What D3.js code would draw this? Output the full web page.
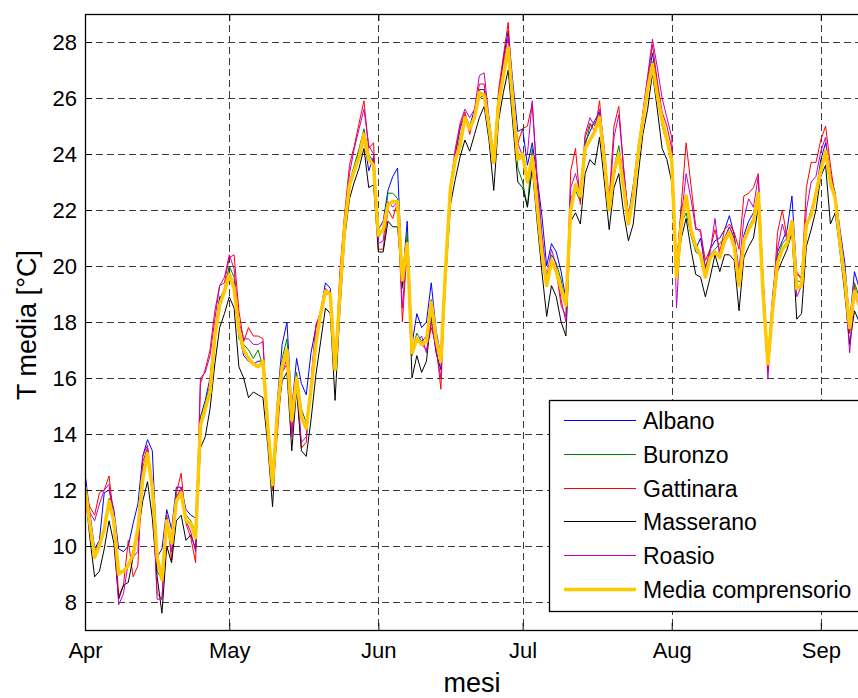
<!DOCTYPE html>
<html>
<head>
<meta charset="utf-8">
<script src="https://cdnjs.cloudflare.com/ajax/libs/d3/7.8.5/d3.min.js"></script>
<style>
  body { margin: 0; background: #fff; }
  svg { display: block; font-family: "Liberation Sans", Arial, sans-serif; }
</style>
</head>
<body>
<div id="chart-container"></div>
<script>
// Daily mean temperature (°C), one value per day starting 1 April
const albano = [
  12.6, 11.2, 9.9, 10.2, 11.9, 12.0, 11.3, 9.9, 9.8, 10.0,
  10.8, 11.5, 13.2, 13.8, 13.4, 9.6, 9.9, 11.3, 10.6, 12.1,
  12.1, 11.3, 11.1, 11.0, 14.6, 15.2, 16.0, 17.7, 18.9, 19.0,
  19.8, 19.3, 17.6, 16.8, 16.6, 16.5, 16.6, 16.6, 14.3, 12.2,
  15.2, 17.2, 18.0, 14.9, 16.7, 15.8, 15.4, 16.9, 17.8, 18.4,
  19.4, 19.2, 16.4, 19.3, 21.5, 22.8, 23.5, 24.1, 24.6, 23.4,
  23.9, 21.3, 21.6, 22.7, 23.2, 23.5, 19.5, 21.6, 17.2, 18.3,
  17.8, 18.0, 19.4, 17.7, 16.8, 20.3, 22.8, 24.0, 24.9, 25.4,
  25.0, 25.6, 26.3, 26.3, 25.3, 23.9, 26.0, 27.4, 28.4, 26.5,
  24.8, 24.9, 23.6, 24.4, 23.2, 21.8, 20.0, 20.8, 20.5, 19.8,
  18.8, 22.4, 22.8, 22.5, 24.4, 24.8, 25.2, 25.5, 23.8, 22.3,
  23.2, 24.0, 23.3, 21.8, 22.9, 24.2, 25.4, 26.5, 27.6, 26.5,
  25.1, 24.6, 23.9, 20.0, 22.1, 22.4, 21.4, 20.6, 21.0, 19.9,
  20.6, 20.9, 21.0, 21.3, 21.8, 21.1, 19.7, 21.1, 21.6, 21.9,
  22.6, 19.6, 16.7, 19.0, 20.5, 20.9, 21.3, 22.5, 19.7, 19.6,
  21.4, 22.0, 22.6, 23.8, 24.4, 23.3, 22.6, 21.3, 20.1, 18.0,
  19.8, 19.2
];
const buronzo = [
  12.2, 11.0, 9.8, 10.1, 10.7, 11.7, 10.9, 9.1, 9.1, 9.3,
  9.8, 10.6, 12.8, 13.4, 12.3, 9.1, 8.8, 11.0, 10.2, 11.8,
  12.0, 11.1, 10.9, 10.5, 14.6, 15.1, 15.8, 17.6, 18.8, 19.2,
  20.0, 19.6, 17.4, 17.2, 17.0, 16.7, 17.0, 16.4, 14.1, 12.3,
  15.0, 16.7, 17.4, 14.6, 16.2, 14.9, 14.4, 15.7, 17.5, 18.2,
  19.0, 19.0, 16.3, 19.2, 21.4, 23.0, 23.6, 24.2, 24.9, 24.0,
  23.7, 21.0, 21.3, 22.6, 22.6, 22.4, 19.2, 21.2, 17.0, 17.6,
  17.3, 17.5, 18.8, 17.5, 16.6, 20.1, 22.7, 23.8, 24.6, 25.3,
  24.9, 25.3, 26.0, 26.1, 25.0, 23.7, 25.9, 26.8, 27.6, 25.6,
  23.5, 23.0, 22.1, 24.2, 22.3, 20.8, 19.5, 20.4, 20.1, 19.5,
  18.6, 22.2, 22.7, 22.3, 24.3, 25.0, 25.1, 25.4, 24.0, 22.0,
  23.5, 24.3, 23.2, 21.6, 22.6, 24.0, 25.3, 26.3, 27.3, 26.2,
  25.0, 24.4, 23.6, 19.8, 21.5, 21.9, 21.1, 20.5, 20.4, 20.0,
  20.4, 20.6, 20.8, 21.0, 21.4, 21.0, 19.6, 20.9, 21.4, 21.7,
  22.5, 19.4, 16.4, 18.7, 20.3, 20.8, 21.0, 21.6, 19.5, 19.4,
  21.3, 22.0, 22.5, 23.6, 24.1, 23.0, 22.3, 21.0, 19.6, 17.6,
  19.4, 18.9
];
const gattinara = [
  12.0, 11.4, 11.1, 11.9, 12.0, 12.5, 11.0, 8.2, 8.6, 10.2,
  8.9, 9.3, 13.0, 13.5, 12.0, 8.3, 8.1, 11.1, 9.5, 11.9,
  12.6, 10.8, 10.3, 9.4, 15.8, 16.3, 17.0, 18.4, 19.3, 19.4,
  20.3, 20.4, 18.4, 17.3, 17.8, 17.5, 17.5, 17.4, 14.2, 12.0,
  14.0, 16.2, 16.5, 14.0, 15.8, 13.5, 13.7, 15.9, 17.9, 18.3,
  19.0, 19.1, 16.3, 19.8, 21.9, 23.6, 24.3, 25.1, 25.9, 24.2,
  24.4, 20.6, 20.6, 22.0, 21.7, 22.3, 18.0, 20.7, 16.8, 17.3,
  17.2, 17.0, 17.8, 17.2, 15.6, 19.8, 22.9, 24.0, 25.0, 25.5,
  24.7, 25.4, 26.5, 26.5, 25.0, 23.9, 26.3, 27.5, 28.7, 25.8,
  24.4, 24.9, 25.0, 25.8, 23.0, 21.0, 19.5, 20.1, 19.8, 18.6,
  18.2, 23.4, 24.2, 22.2, 24.6, 25.1, 24.8, 25.9, 23.9, 22.4,
  25.0, 25.7, 23.5, 21.8, 22.5, 24.0, 25.4, 26.7, 27.9, 26.6,
  25.5, 25.0, 24.2, 19.8, 22.2, 24.4, 22.9, 21.4, 21.2, 20.2,
  20.6, 21.3, 20.5, 21.3, 21.5, 21.2, 20.6, 22.5, 22.6, 22.8,
  23.3, 19.5, 16.2, 18.6, 21.2, 22.0, 21.0, 21.5, 19.8, 19.5,
  22.8, 23.7, 23.7, 24.5, 25.0, 23.6, 22.4, 21.2, 19.7, 17.6,
  19.3, 18.6
];
const masserano = [
  12.0, 10.3, 8.9, 9.1, 9.9, 10.9, 10.1, 8.1, 8.6, 8.7,
  9.6, 10.4, 11.6, 12.3, 11.0, 8.9, 7.6, 10.0, 9.4, 10.9,
  11.1, 10.2, 10.4, 9.9, 13.5, 13.9, 14.9, 16.5, 17.8, 18.3,
  18.9, 18.5, 16.4, 16.0, 15.3, 15.5, 15.4, 15.3, 13.6, 11.4,
  14.5, 15.9, 16.2, 13.4, 15.6, 13.4, 13.2, 14.5, 16.1, 17.3,
  18.5, 18.3, 15.2, 18.4, 21.0, 22.4, 23.0, 23.5, 24.2, 22.8,
  22.9, 20.5, 20.5, 21.6, 21.4, 21.4, 19.3, 20.7, 16.0, 16.8,
  16.2, 16.6, 18.2, 16.9, 16.3, 19.5, 22.2, 23.1, 23.9, 24.5,
  24.1, 24.7, 25.3, 25.7, 24.5, 22.7, 25.2, 26.2, 27.0, 25.0,
  23.0, 22.8, 22.1, 23.5, 21.6, 19.8, 18.2, 19.3, 18.9, 18.0,
  17.5, 21.6, 21.9, 21.5, 23.3, 23.8, 23.6, 24.6, 23.0, 21.3,
  22.8, 23.3, 21.9, 20.9, 21.5, 23.2, 24.7, 25.6, 26.9, 25.6,
  24.2, 23.8, 23.0, 19.6, 21.0, 21.7, 20.6, 19.7, 19.6, 18.9,
  19.6, 20.4, 19.8, 20.4, 20.4, 20.2, 18.4, 20.3, 20.7, 21.0,
  22.1, 19.0, 16.3, 18.3, 19.8, 20.2, 20.6, 21.2, 18.1, 18.3,
  20.7, 21.3, 22.0, 23.2, 23.6, 21.5, 21.9, 20.5, 19.0, 17.2,
  18.4, 18.0
];
const roasio = [
  12.2, 11.2, 10.9, 11.5, 12.0, 12.2, 10.6, 7.9, 8.3, 9.4,
  9.6, 9.8, 13.2, 13.6, 12.0, 8.1, 8.1, 11.0, 9.8, 11.7,
  12.1, 10.9, 10.5, 9.8, 16.0, 16.2, 16.8, 18.1, 19.3, 19.6,
  20.4, 19.9, 18.0, 17.4, 17.4, 17.2, 17.2, 17.3, 14.0, 12.2,
  14.8, 16.2, 16.7, 13.9, 15.9, 13.7, 13.9, 15.8, 17.8, 18.2,
  19.2, 19.0, 16.4, 19.6, 21.8, 23.3, 24.2, 24.9, 25.6, 24.3,
  24.0, 20.8, 20.9, 22.3, 22.1, 22.3, 18.5, 20.8, 17.1, 17.3,
  17.5, 16.9, 18.0, 17.0, 16.0, 20.0, 22.9, 24.2, 25.1, 25.6,
  25.3, 25.6, 26.8, 26.9, 25.3, 23.8, 26.0, 27.2, 28.2, 25.5,
  24.4, 23.9, 24.0, 25.9, 23.2, 21.2, 19.6, 20.6, 20.0, 18.8,
  18.0, 22.8, 23.3, 22.6, 24.7, 25.3, 25.0, 25.6, 24.2, 22.1,
  24.6, 25.4, 23.5, 21.6, 22.6, 24.1, 25.5, 26.8, 28.1, 27.1,
  26.0, 25.3, 24.6, 18.5, 21.7, 23.3, 22.4, 21.3, 21.3, 19.9,
  20.5, 21.7, 20.3, 21.0, 21.4, 21.0, 19.9, 21.7, 22.4, 22.1,
  23.2, 19.3, 16.0, 18.5, 20.6, 21.5, 20.9, 21.4, 18.9, 19.3,
  22.0, 23.0, 23.2, 24.1, 24.6, 22.8, 22.5, 21.0, 19.4, 16.9,
  19.0, 18.5
];
const media = [
  12.1, 10.8, 9.6, 10.0, 10.6, 11.6, 10.9, 9.0, 9.1, 9.3,
  9.7, 10.6, 12.4, 13.3, 12.1, 9.6, 8.8, 10.9, 10.1, 11.6,
  11.9, 10.9, 10.8, 10.3, 14.3, 14.9, 15.5, 17.5, 18.6, 19.1,
  19.7, 19.2, 17.7, 17.0, 16.7, 16.5, 16.4, 16.6, 14.3, 12.2,
  14.8, 16.4, 17.0, 14.5, 16.0, 14.6, 14.2, 15.6, 17.2, 18.3,
  19.1, 19.0, 16.3, 19.0, 21.4, 22.9, 23.4, 23.9, 24.7, 23.8,
  23.6, 21.1, 21.3, 22.2, 22.3, 22.3, 19.5, 20.8, 16.9, 17.4,
  17.2, 17.3, 18.7, 17.4, 16.6, 20.0, 22.8, 23.8, 24.3, 25.3,
  24.9, 25.3, 26.2, 26.1, 25.0, 23.7, 25.8, 26.8, 27.8, 25.8,
  23.8, 24.0, 23.0, 23.9, 22.2, 20.5, 19.3, 20.2, 19.8, 19.2,
  18.6, 22.0, 22.9, 22.5, 24.2, 24.5, 24.8, 25.3, 23.8, 22.0,
  23.4, 24.0, 22.8, 21.5, 22.5, 24.0, 25.2, 26.3, 27.2, 26.1,
  25.2, 24.5, 23.8, 19.6, 21.5, 22.5, 21.3, 20.7, 20.4, 19.6,
  20.3, 20.5, 20.3, 20.9, 21.2, 20.7, 19.3, 20.9, 21.3, 21.6,
  22.6, 19.0, 16.5, 18.5, 20.1, 20.6, 20.8, 21.6, 19.2, 19.3,
  21.5, 21.8, 22.6, 23.4, 24.1, 23.0, 22.4, 20.8, 19.5, 17.8,
  19.1, 18.6
];

const seriesNames = ['Albano', 'Buronzo', 'Gattinara', 'Masserano', 'Roasio', 'Media comprensorio'];
const monthLabels = ['Apr', 'May', 'Jun', 'Jul', 'Aug', 'Sep'];
const yTicks = [8, 10, 12, 14, 16, 18, 20, 22, 24, 26, 28];

// Line styles, same order as seriesNames
const colors = ['#0000ff', '#008000', '#ff0000', '#000000', '#c000c0', '#ffc800'];
const widths = [1, 1, 1, 1, 1, 3.5];

// Chart size (the axes box runs a little past the right edge of the page)
const svgWidth = 858;
const svgHeight = 698;
const plot = { left: 85, top: 14, right: 866, bottom: 630 };

const svg = d3.select('#chart-container')
  .append('svg')
  .attr('width', svgWidth)
  .attr('height', svgHeight);

// Scales
const startDate = new Date(Date.UTC(2011, 3, 1));
const endDate = new Date(startDate.getTime() + 162.4 * 864e5);
const dayDate = i => d3.utcDay.offset(startDate, i);

const xScale = d3.scaleUtc()
  .domain([startDate, endDate])
  .range([plot.left, plot.right]);

const yScale = d3.scaleLinear()
  .domain([7, 29])
  .range([plot.bottom, plot.top]);

const monthStarts = d3.utcMonth.range(startDate, endDate);

// Grid
const grid = svg.append('g')
  .attr('stroke', '#3a3a3a')
  .attr('stroke-width', 1)
  .attr('stroke-dasharray', '7,4');

grid.selectAll('.vgrid')
  .data(monthStarts.slice(1))
  .enter()
  .append('line')
  .attr('x1', d => Math.round(xScale(d)) + 0.5)
  .attr('x2', d => Math.round(xScale(d)) + 0.5)
  .attr('y1', plot.top)
  .attr('y2', plot.bottom);

grid.selectAll('.hgrid')
  .data(yTicks)
  .enter()
  .append('line')
  .attr('x1', plot.left)
  .attr('x2', plot.right)
  .attr('y1', d => Math.round(yScale(d)) + 0.5)
  .attr('y2', d => Math.round(yScale(d)) + 0.5);

// Data lines
svg.append('clipPath')
  .attr('id', 'plot-clip')
  .append('rect')
  .attr('x', plot.left)
  .attr('y', plot.top)
  .attr('width', plot.right - plot.left)
  .attr('height', plot.bottom - plot.top);

const line = d3.line()
  .x((d, i) => xScale(dayDate(i)))
  .y(d => yScale(d));

const allSeries = [albano, buronzo, gattinara, masserano, roasio, media];

svg.append('g')
  .attr('clip-path', 'url(#plot-clip)')
  .selectAll('path')
  .data(allSeries)
  .enter()
  .append('path')
  .attr('d', line)
  .attr('fill', 'none')
  .attr('stroke', (d, i) => colors[i])
  .attr('stroke-width', (d, i) => widths[i])
  .attr('stroke-linejoin', 'round');

// Axes
const xAxis = d3.axisBottom(xScale)
  .tickValues(monthStarts)
  .tickFormat((d, i) => monthLabels[i])
  .tickSize(-7)
  .tickPadding(12);

const yAxis = d3.axisLeft(yScale)
  .tickValues(yTicks)
  .tickSize(-7)
  .tickPadding(8);

const xAxisTop = d3.axisTop(xScale)
  .tickValues(monthStarts)
  .tickFormat('')
  .tickSize(-7);

const styleAxis = g => {
  g.select('.domain').remove();
  g.selectAll('.tick line').attr('stroke', '#000');
  g.selectAll('.tick text')
    .attr('fill', '#000')
    .style('font-size', '22px')
    .style('font-family', '"Liberation Sans", Arial, sans-serif');
};

svg.append('g')
  .attr('transform', `translate(0, ${plot.bottom})`)
  .call(xAxis)
  .call(styleAxis);

svg.append('g')
  .attr('transform', `translate(${plot.left}, 0)`)
  .call(yAxis)
  .call(styleAxis);

svg.append('g')
  .attr('transform', `translate(0, ${plot.top})`)
  .call(xAxisTop)
  .call(styleAxis);

// Axes box
svg.append('rect')
  .attr('x', plot.left + 0.5)
  .attr('y', plot.top + 0.5)
  .attr('width', plot.right - plot.left)
  .attr('height', plot.bottom - plot.top)
  .attr('fill', 'none')
  .attr('stroke', '#000')
  .attr('stroke-width', 1.3);

// Axis titles
svg.append('text')
  .attr('x', 472)
  .attr('y', 692)
  .attr('text-anchor', 'middle')
  .style('font-size', '27px')
  .text('mesi');

svg.append('text')
  .attr('transform', 'translate(36, 325) rotate(-90)')
  .attr('text-anchor', 'middle')
  .style('font-size', '27px')
  .text('T media [°C]');

// Legend
const legend = svg.append('g')
  .attr('transform', 'translate(549, 400)');

legend.append('rect')
  .attr('x', 0.5)
  .attr('y', 0.5)
  .attr('width', 330)
  .attr('height', 211)
  .attr('fill', '#fff')
  .attr('stroke', '#000')
  .attr('stroke-width', 1.3);

const rows = legend.selectAll('.row')
  .data(seriesNames)
  .enter()
  .append('g')
  .attr('transform', (d, i) => `translate(0, ${Math.round(20 + i * 33.8) + 0.5})`);

rows.append('line')
  .attr('x1', 15)
  .attr('x2', 87)
  .attr('stroke', (d, i) => colors[i])
  .attr('stroke-width', (d, i) => widths[i]);

rows.append('text')
  .attr('x', 94)
  .attr('dy', '0.35em')
  .style('font-size', '23px')
  .text(d => d);
</script>
</body>
</html>
